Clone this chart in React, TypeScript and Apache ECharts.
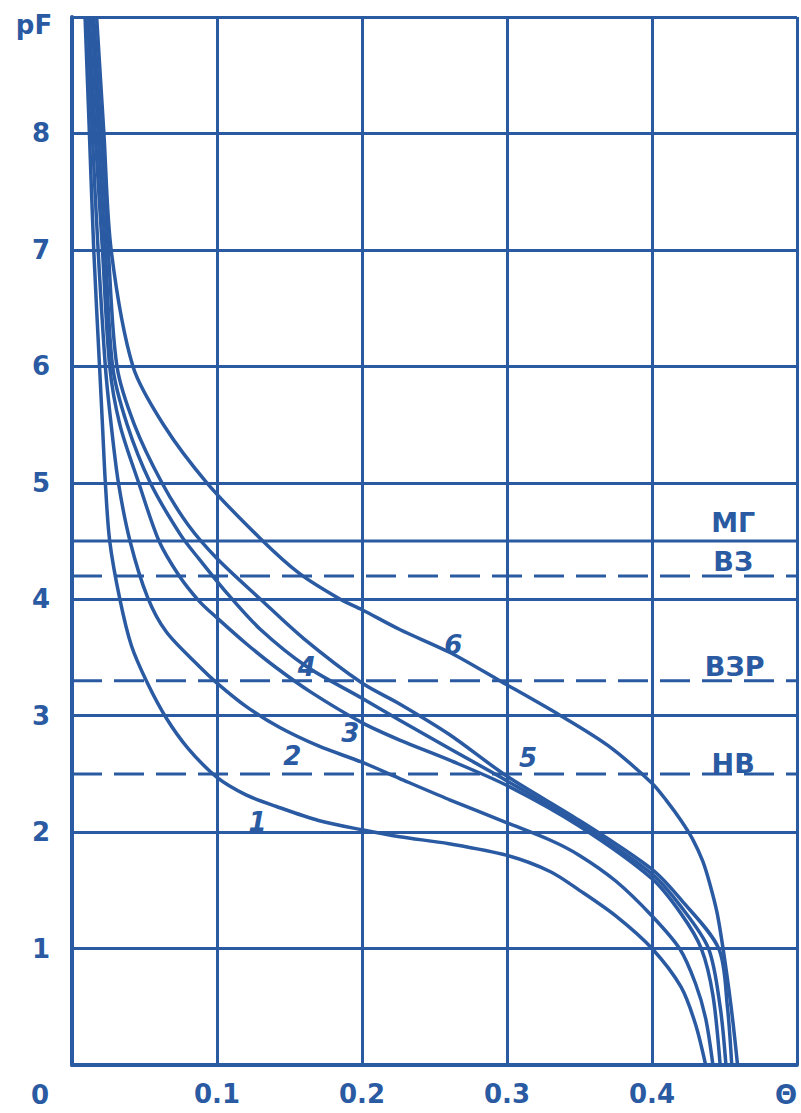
import React, { useEffect, useRef } from "react";
import * as echarts from "echarts";

const BLUE = "#2a5aa2";
const FONT = "'DejaVu Sans', 'Liberation Sans', sans-serif";

// Axis ticks
const xTicks = [0, 0.1, 0.2, 0.3, 0.4, 0.5];
const yTicks = [0, 1, 2, 3, 4, 5, 6, 7, 8, 9];

// Water retention curves: [theta, pF]
const curve1 = [[0.009, 9], [0.012, 8], [0.015, 7], [0.019, 6], [0.021, 5.5], [0.023, 5], [0.026, 4.5], [0.033, 4], [0.041, 3.6], [0.052, 3.28], [0.065, 2.98], [0.08, 2.72], [0.1, 2.47], [0.12, 2.32], [0.141, 2.22], [0.17, 2.1], [0.2, 2.02], [0.226, 1.96], [0.26, 1.9], [0.3, 1.8], [0.33, 1.66], [0.35, 1.5], [0.375, 1.28], [0.4, 1.0], [0.42, 0.67], [0.43, 0.35], [0.437, 0]];
const curve2 = [[0.011, 9], [0.014, 8], [0.018, 7], [0.023, 6], [0.027, 5.5], [0.032, 5], [0.04, 4.5], [0.052, 4.02], [0.065, 3.72], [0.088, 3.42], [0.1, 3.28], [0.12, 3.08], [0.143, 2.9], [0.17, 2.74], [0.2, 2.6], [0.226, 2.46], [0.26, 2.28], [0.3, 2.08], [0.33, 1.93], [0.35, 1.8], [0.375, 1.58], [0.4, 1.28], [0.419, 1.0], [0.43, 0.7], [0.437, 0.4], [0.442, 0]];
const curve3 = [[0.012, 9], [0.016, 8], [0.021, 7], [0.026, 6], [0.033, 5.5], [0.046, 5], [0.06, 4.5], [0.074, 4.2], [0.088, 3.98], [0.1, 3.84], [0.12, 3.62], [0.14, 3.42], [0.165, 3.2], [0.2, 2.94], [0.226, 2.79], [0.26, 2.62], [0.3, 2.4], [0.35, 2.05], [0.4, 1.6], [0.42, 1.3], [0.434, 1.0], [0.442, 0.6], [0.447, 0]];
const curve4 = [[0.014, 9], [0.018, 8], [0.023, 7], [0.028, 6], [0.038, 5.5], [0.054, 5], [0.075, 4.55], [0.088, 4.34], [0.107, 4.05], [0.13, 3.74], [0.162, 3.42], [0.2, 3.15], [0.226, 2.96], [0.26, 2.72], [0.3, 2.44], [0.35, 2.07], [0.4, 1.64], [0.42, 1.36], [0.439, 1.0], [0.447, 0.5], [0.451, 0]];
const curve5 = [[0.015, 9], [0.02, 8], [0.025, 7], [0.031, 6], [0.043, 5.5], [0.062, 5], [0.08, 4.64], [0.1, 4.35], [0.13, 4.0], [0.16, 3.66], [0.2, 3.28], [0.226, 3.1], [0.26, 2.84], [0.3, 2.48], [0.35, 2.1], [0.4, 1.68], [0.42, 1.42], [0.446, 1.0], [0.452, 0.5], [0.455, 0]];
const curve6 = [[0.017, 9], [0.022, 8], [0.027, 7], [0.042, 6], [0.063, 5.5], [0.093, 5.0], [0.13, 4.52], [0.157, 4.22], [0.185, 4.0], [0.2, 3.91], [0.226, 3.74], [0.261, 3.54], [0.295, 3.3], [0.337, 3.0], [0.37, 2.74], [0.4, 2.42], [0.41, 2.27], [0.42, 2.1], [0.428, 1.94], [0.435, 1.75], [0.44, 1.55], [0.445, 1.3], [0.449, 1.0], [0.453, 0.65], [0.456, 0.35], [0.459, 0]];
const curves = [curve1, curve2, curve3, curve4, curve5, curve6];

// Curve number labels
const curveLabels = ["1", "2", "3", "4", "5", "6"];
const curveLabelTheta = [0.128, 0.152, 0.192, 0.162, 0.3145, 0.263];
const curveLabelPF = [2.09, 2.65, 2.85, 3.42, 2.64, 3.61];

// Characteristic moisture levels
const levelNames = ["МГ", "ВЗ", "ВЗР", "НВ"];
const levelValues = [4.5, 4.2, 3.3, 2.5];
const levelDashed = [false, true, true, true];
const levelLabelTheta = [0.456, 0.456, 0.457, 0.456];
const levelLabelPF = [4.66, 4.32, 3.42, 2.59];

export default function App() {
  const ref = useRef<HTMLDivElement>(null);
  useEffect(() => {
    if (!ref.current) return;
    const chart = echarts.init(ref.current, null, { renderer: "svg" });
    const labelFont = { fontFamily: FONT, fontWeight: "bold" as const, fontSize: 26, color: BLUE };
    const series: any[] = [];
    levelValues.forEach((v, i) => {
      series.push({
        type: "line",
        data: [[xTicks[0], v], [xTicks[xTicks.length - 1], v]],
        symbol: "none",
        silent: true,
        lineStyle: { color: BLUE, width: 3, type: levelDashed[i] ? [30, 12] : "solid" },
        z: 1,
      });
    });
    curves.forEach((c) => {
      series.push({
        type: "line",
        data: c,
        symbol: "none",
        smooth: 0.3,
        lineStyle: { color: BLUE, width: 3.5 },
        z: 3,
      });
    });
    const labelSeries = (names: string[], xs: number[], ys: number[], extra: any) => ({
      type: "scatter",
      data: names.map((n, i) => ({ name: n, value: [xs[i], ys[i]] })),
      symbolSize: 0,
      itemStyle: { color: BLUE, opacity: 1 },
      label: {
        show: true,
        position: [0, 0],
        align: "center",
        verticalAlign: "middle",
        formatter: "{b}",
        opacity: 1,
        ...labelFont,
        ...extra,
      },
      z: 5,
    });
    series.push(labelSeries(curveLabels, curveLabelTheta, curveLabelPF, { fontStyle: "italic" }));
    series.push(labelSeries(levelNames, levelLabelTheta, levelLabelPF, { fontSize: 27 }));
    chart.setOption({
      animation: false,
      backgroundColor: "#ffffff",
      grid: { left: 72, right: 4, top: 17, bottom: 48 },
      xAxis: {
        type: "value",
        min: xTicks[0],
        max: xTicks[xTicks.length - 1],
        interval: 0.1,
        axisLine: { show: true, lineStyle: { color: BLUE, width: 4 } },
        axisTick: { show: false },
        splitLine: { show: true, lineStyle: { color: BLUE, width: 3 } },
        axisLabel: {
          ...labelFont,
          margin: 16,
          formatter: (v: number) => (v > 0.05 && v < 0.45 ? v.toFixed(1) : ""),
        },
      },
      yAxis: {
        type: "value",
        min: yTicks[0],
        max: yTicks[yTicks.length - 1],
        interval: 1,
        axisLine: { show: true, lineStyle: { color: BLUE, width: 4 } },
        axisTick: { show: false },
        splitLine: { show: true, lineStyle: { color: BLUE, width: 3 } },
        axisLabel: {
          ...labelFont,
          margin: 22,
          formatter: (v: number) => (v > 0 && v < 9 ? String(v) : ""),
        },
      },
      graphic: [
        { type: "text", style: { text: "pF", x: 34, y: 25, align: "center", verticalAlign: "middle", textAlign: "center", textVerticalAlign: "middle", font: `bold 26px ${FONT}`, fill: BLUE } },
        { type: "text", style: { text: "0", x: 40, y: 1095, align: "center", verticalAlign: "middle", textAlign: "center", textVerticalAlign: "middle", font: `bold 26px ${FONT}`, fill: BLUE } },
        { type: "text", style: { text: "Θ", x: 786, y: 1095, align: "center", verticalAlign: "middle", textAlign: "center", textVerticalAlign: "middle", font: `bold 26px ${FONT}`, fill: BLUE } },
      ],
      series,
    });
    return () => chart.dispose();
  }, []);
  return <div ref={ref} style={{ position: "fixed", left: 0, top: 0, width: 801, height: 1113 }} />;
}
